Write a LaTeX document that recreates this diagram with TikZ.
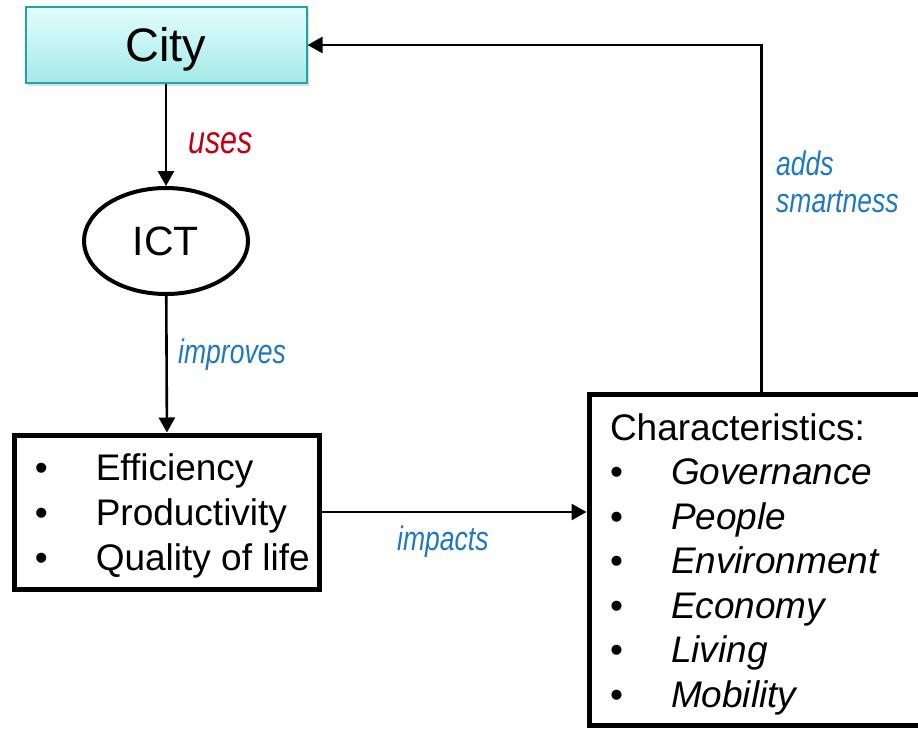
\documentclass[tikz,border=0pt]{standalone}
\usepackage{fontspec}
\setmainfont{Liberation Sans}
\newfontfamily\narrowfont[FakeStretch=0.78]{Liberation Sans}
\usetikzlibrary{arrows.meta,shapes.geometric,shadows}
\definecolor{cityTop}{HTML}{E3FCFC}
\definecolor{cityBottom}{HTML}{A4EAEA}
\definecolor{cityBorder}{HTML}{1FA5A5}
\definecolor{labelBlue}{HTML}{1F78C1}
\definecolor{labelRed}{HTML}{C00010}
% explicit interword gap for the list entries
\newcommand{\wgap}{\hspace{0.278em}}
\begin{document}
\begin{tikzpicture}[x=1pt,y=-1pt,
  conn/.style={line width=2.6pt,-{Triangle[length=15pt,width=16pt]}},
  lbl/.style={font=\narrowfont\itshape\fontsize{34}{37}\selectfont,text=labelBlue,inner sep=0pt},
  citybox/.style={draw=cityBorder,line width=2pt,top color=cityTop,bottom color=cityBottom,
    minimum width=281pt,minimum height=76pt,inner sep=0pt,
    font=\fontsize{47}{50}\selectfont,text height=33.7pt,text depth=0pt,
    drop shadow={opacity=0.25,shadow xshift=2pt,shadow yshift=-3pt}},
  ictnode/.style={draw,ellipse,line width=4pt,minimum width=164pt,minimum height=106pt,
    inner sep=0pt,font=\fontsize{41}{44}\selectfont,text height=29.4pt,text depth=0pt},
  listbox/.style={draw,line width=5pt,fill=white,align=left,inner ysep=0pt}]
\useasboundingbox (0,0) rectangle (918,729);
\clip (0,0) rectangle (918,729);

% nodes
\node[citybox] (city) at (166,45) {City};
\node[ictnode] (ict) at (166,241) {ICT};
\node[listbox,inner xsep=20pt,text width=265pt,minimum height=154pt] (eff) at (167.3,512)
  {\fontsize{37}{45}\selectfont
   \raisebox{-4pt}[\height][\depth]{%
   \begin{tabular}{@{}p{61pt}@{}l@{}}
   \textbullet & Efficiency\\
   \textbullet & Productivity\\
   \textbullet & Quality\wgap of\wgap life
   \end{tabular}}};
\node[listbox,inner xsep=21pt,text width=303pt,minimum height=331.5pt] (chars) at (761.5,559.75)
  {\fontsize{37}{44.5}\selectfont
   \raisebox{-5pt}[\height][\depth]{%
   \begin{tabular}{@{}p{61pt}@{}l@{}}
   \multicolumn{2}{@{}l@{}}{Characteristics:}\\
   \textbullet & \textit{Governance}\\
   \textbullet & \textit{People}\\
   \textbullet & \textit{Environment}\\
   \textbullet & \textit{Economy}\\
   \textbullet & \textit{Living}\\
   \textbullet & \textit{Mobility}
   \end{tabular}}};

% connectors
\draw[conn] (city) -- (ict);
\draw[conn] (ict) -- (eff);
\draw[conn] (eff.east) -- (eff.east -| chars.west);
\draw[conn] (chars.north) |- (city.east);

% connector labels
\node[lbl,text=labelRed,font=\narrowfont\itshape\fontsize{39}{42}\selectfont,anchor=west] (usesLbl) at (188,143) {uses};
\node[lbl,anchor=west] (improvesLbl) at (178,355) {improves};
\node[lbl,anchor=west] (impactsLbl) at (397,542) {impacts};
\node[lbl,anchor=west,align=left] (addsLbl) at (776,181.5) {adds\\smartness};
\end{tikzpicture}
\end{document}
